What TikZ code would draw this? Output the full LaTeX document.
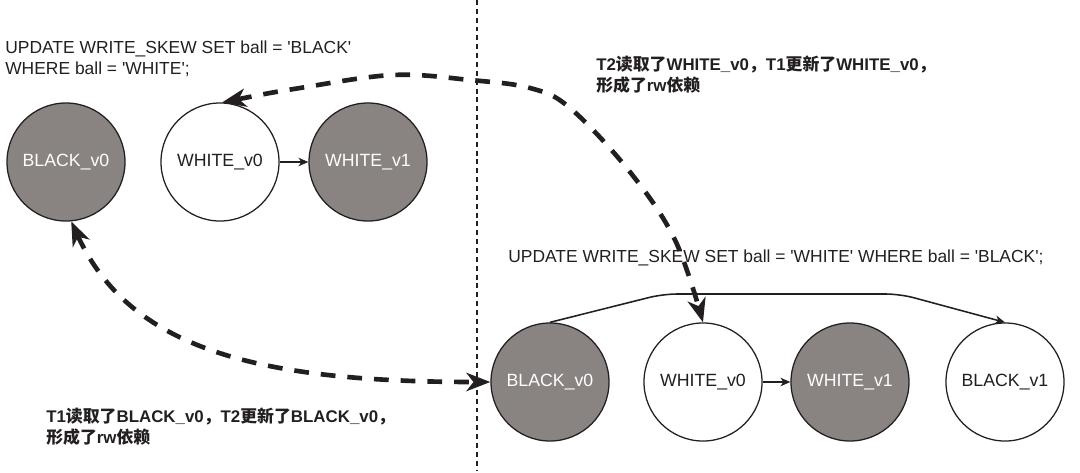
\documentclass[tikz,border=0pt]{standalone}
\usepackage{fontspec}
\setmainfont{Liberation Sans}
\newfontfamily\cjk{Noto Sans CJK SC}
\usetikzlibrary{arrows.meta}
\definecolor{ink}{RGB}{35,31,32}
\definecolor{ballgray}{RGB}{137,131,129}
\newcommand{\sq}{\textquotesingle}
\tikzset{
  ball/.style={circle,draw=ink,line width=0.9pt,minimum size=2.95cm,inner sep=0pt,
    font=\fontsize{12.6pt}{15pt}\selectfont},
  blackball/.style={ball,fill=ballgray,text=white},
  whiteball/.style={ball,fill=white,text=ink},
  txt/.style={anchor=base west,inner sep=0pt,text=ink,font=\fontsize{12.4pt}{15pt}\selectfont},
  note/.style={anchor=base west,inner sep=0pt,text=ink,font=\fontsize{12pt}{15pt}\selectfont\bfseries},
  nextver/.style={draw=ink,line width=1pt,-{Stealth[length=7pt,width=6pt,inset=2pt]}},
  rwdep/.style={draw=ink,line width=3.3pt,dash pattern=on 10.5pt off 8.5pt,
    {Stealth[length=17pt,width=13pt,inset=5pt]}-{Stealth[length=17pt,width=13pt,inset=5pt]}},
  divider/.style={draw=ink,line width=1.3pt,dash pattern=on 3.5pt off 2.8pt}
}
\begin{document}
\begin{tikzpicture}[x=0.025cm,y=-0.025cm]
    \useasboundingbox (0,0) rectangle (1080,473);
    \draw[divider] (477,0) -- (477,470);

    % T1 side
    \node[blackball] (bt) at (66,162) {BLACK\_v0};
    \node[whiteball] (wt) at (220,162) {WHITE\_v0};
    \node[blackball] (vt) at (368,162) {WHITE\_v1};
    \node[txt] (sqlA1) at (5,54) {UPDATE WRITE\_SKEW SET ball = \sq BLACK\sq};
    \node[txt] (sqlA2) at (5,75) {WHERE ball = \sq WHITE\sq;};

    % T2 side
    \node[blackball] (bb) at (550,382) {BLACK\_v0};
    \node[whiteball] (wb) at (703,382) {WHITE\_v0};
    \node[blackball] (vb) at (850,382) {WHITE\_v1};
    \node[whiteball] (kb) at (1005,382) {BLACK\_v1};
    \node[txt] (sqlB) at (508,262) {UPDATE WRITE\_SKEW SET ball = \sq WHITE\sq{} WHERE ball = \sq BLACK\sq;};

    % rw notes
    \node[note] (rwA1) at (596,71) {T2{\cjk 读取了}WHITE\_v0{\cjk ，}T1{\cjk 更新了}WHITE\_v0{\cjk ，}};
    \node[note] (rwA2) at (596,92) {{\cjk 形成了}rw{\cjk 依赖}};
    \node[note] (rwB1) at (46,422) {T1{\cjk 读取了}BLACK\_v0{\cjk ，}T2{\cjk 更新了}BLACK\_v0{\cjk ，}};
    \node[note] (rwB2) at (46,443) {{\cjk 形成了}rw{\cjk 依赖}};

    % versions
    \draw[nextver] (wt) -- (vt);
    \draw[nextver] (wb) -- (vb);
    \draw[nextver,line width=1.1pt,rounded corners=10pt] (bb.north) -- (663,294) -- (900,294) -- (kb.north);

    % rw dependencies
    \draw[rwdep] (bt.-85) .. controls (130,350) and (260,382) .. (bb.west);
    \draw[rwdep] plot[smooth,tension=0.6] coordinates {(wt.88) (300,88) (393,75) (470,80)
        (530,88) (570,108) (630,172) (675,240) (wb.north)};
\end{tikzpicture}
\end{document}
